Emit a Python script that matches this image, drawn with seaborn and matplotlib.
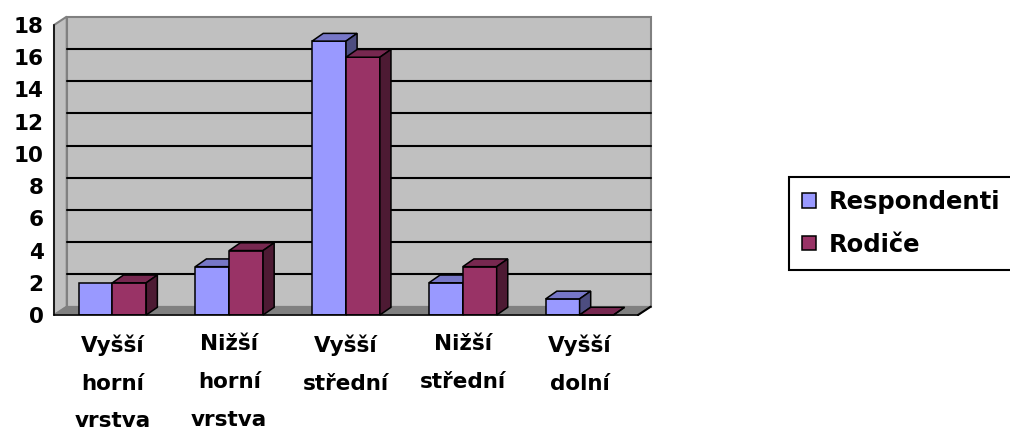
import matplotlib
matplotlib.use("Agg")
import matplotlib.pyplot as plt
import numpy as np
import pandas as pd
import seaborn as sns
from matplotlib.colors import to_rgb
from matplotlib.patches import Patch, Polygon

# data
categories = ["Vyšší\nhorní\nvrstva", "Nižší\nhorní\nvrstva", "Vyšší\nstřední",
              "Nižší\nstřední", "Vyšší\ndolní"]
series = ["Respondenti", "Rodiče"]
respondenti = [2, 3, 17, 2, 1]
rodice = [2, 4, 16, 3, 0]
colors = ["#9999FF", "#993366"]
y_ticks = list(range(0, 19, 2))

sns.set_style("white")
plt.rcParams["font.family"] = ["DejaVu Sans"]
plt.rcParams["font.weight"] = "bold"
plt.rcParams["text.color"] = "black"
plt.rcParams["xtick.color"] = "black"
plt.rcParams["ytick.color"] = "black"

df = pd.DataFrame({
    "category": categories * 2,
    "series": [series[0]] * len(categories) + [series[1]] * len(categories),
    "value": respondenti + rodice,
})

W, H = 1010, 428
fig = plt.figure(figsize=(W / 100, H / 100), dpi=100)
ax = fig.add_axes([54 / W, (H - 315) / H, 584 / W, 290 / H])

x_lo, x_hi = -0.5, len(categories) - 0.5
y_lo, y_hi = 0, 18
# 3D depth offsets (category units, value units)
dxw, dyw = 0.109, 0.52
dxb, dyb = 0.095, 0.48

# walls and floor
ax.add_patch(Polygon([(x_lo + dxw, y_lo + dyw), (x_hi + dxw, y_lo + dyw),
                      (x_hi + dxw, y_hi + dyw), (x_lo + dxw, y_hi + dyw)],
                     closed=True, facecolor="#C0C0C0", edgecolor="#808080",
                     linewidth=1.5, zorder=0.5, clip_on=False))
ax.add_patch(Polygon([(x_lo, y_lo), (x_lo + dxw, y_lo + dyw),
                      (x_lo + dxw, y_hi + dyw), (x_lo, y_hi)],
                     closed=True, facecolor="#C0C0C0", edgecolor="#808080",
                     linewidth=1.5, zorder=0.6, clip_on=False))
for v in y_ticks[1:-1]:
    ax.plot([x_lo + dxw, x_hi + dxw], [v + dyw, v + dyw], color="black",
            linewidth=1.5, zorder=0.7, clip_on=False)
ax.add_patch(Polygon([(x_lo, y_lo), (x_hi, y_lo), (x_hi + dxw, y_lo + dyw),
                      (x_lo + dxw, y_lo + dyw)],
                     closed=True, facecolor="#808080", edgecolor="#808080",
                     linewidth=1.0, zorder=0.8, clip_on=False))
ax.plot([x_hi, x_hi + dxw], [y_lo, y_lo + dyw], color="black", linewidth=1.5,
        zorder=0.9, clip_on=False)

sns.barplot(data=df, x="category", y="value", hue="series", palette=colors,
            width=0.58, saturation=1, edgecolor="black", linewidth=1.1,
            errorbar=None, legend=False, ax=ax)

# add top and side faces to each bar
bars = sorted(list(ax.patches)[4:], key=lambda p: p.get_x())
for i, p in enumerate(bars):
    x0, w, h = p.get_x(), p.get_width(), p.get_height()
    base = np.array(to_rgb(p.get_facecolor()))
    z = 2 + i * 0.1
    p.set_zorder(z)
    top = Polygon([(x0, h), (x0 + w, h), (x0 + w + dxb, h + dyb), (x0 + dxb, h + dyb)],
                  closed=True, facecolor=base * 0.78, edgecolor="black",
                  linewidth=1.1, zorder=z + 0.01, clip_on=False)
    side = Polygon([(x0 + w, 0), (x0 + w + dxb, dyb), (x0 + w + dxb, h + dyb), (x0 + w, h)],
                   closed=True, facecolor=base * 0.5, edgecolor="black",
                   linewidth=1.1, zorder=z + 0.02, clip_on=False)
    ax.add_patch(top)
    ax.add_patch(side)

ax.set_xlim(x_lo, x_hi)
ax.set_ylim(y_lo, y_hi)
ax.patch.set_visible(False)
for s in ["top", "right"]:
    ax.spines[s].set_visible(False)
for s in ["left", "bottom"]:
    ax.spines[s].set_color("black")
    ax.spines[s].set_linewidth(1.1)
    ax.spines[s].set_zorder(3)

ax.set_yticks(y_ticks)
ax.set_yticklabels([str(v) for v in y_ticks], fontsize=15.5, fontweight="bold",
                   color="black")
ax.tick_params(axis="y", direction="out", length=4.5, width=1.1, pad=3, color="black")
ax.set_xticks(range(len(categories)))
ax.set_xticklabels(categories, fontsize=15.5, fontweight="bold", linespacing=2.1,
                   color="black")
ax.set_xticks(np.arange(x_lo, x_hi + 0.01, 1), minor=True)
ax.tick_params(axis="x", which="major", length=0, pad=14)
ax.tick_params(axis="x", which="minor", direction="out", length=5, width=1.1, color="black")
ax.set_xlabel("")
ax.set_ylabel("")

handles = [Patch(facecolor=c, edgecolor="black", linewidth=1.1, label=s)
           for c, s in zip(colors, series)]
leg = fig.legend(handles=handles, loc="upper left",
                 bbox_to_anchor=(789 / W, 1 - 177 / H), bbox_transform=fig.transFigure,
                 frameon=True, fancybox=False, framealpha=1, edgecolor="black",
                 prop={"size": 17.5, "weight": "bold"}, handlelength=0.55,
                 handleheight=0.55, handletextpad=0.55, borderpad=0.55,
                 labelspacing=0.75, borderaxespad=0)
leg.get_frame().set_linewidth(1.5)
for t in leg.get_texts():
    t.set_color("black")

fig.savefig("out.png", dpi=100)
plt.close(fig)
